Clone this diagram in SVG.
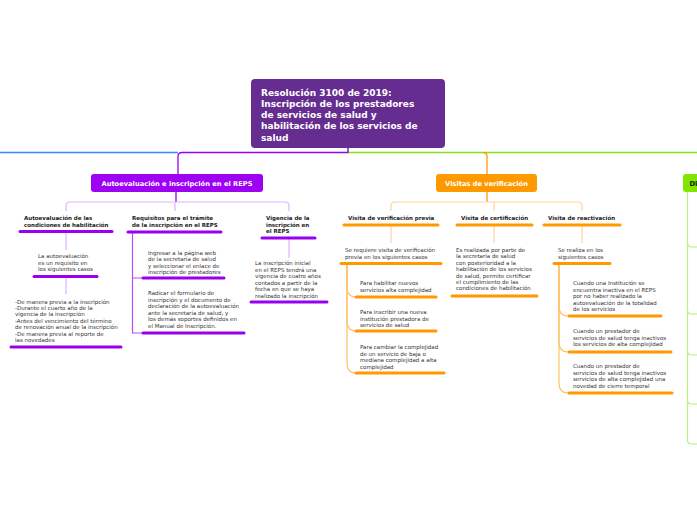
<svg xmlns="http://www.w3.org/2000/svg" width="697" height="520" viewBox="0 0 697 520">
<style>
text{font-family:"DejaVu Sans","Verdana",sans-serif}
.title{font-size:9px;font-weight:bold;fill:#fff}
.br{font-size:6.7px;font-weight:bold;fill:#fff}
.hd{font-size:5.5px;font-weight:bold;fill:#222}
.tx{font-size:5.5px;fill:#333}
.ulp{stroke:#9900EE;stroke-width:3;stroke-linecap:round;fill:none}
.ulo{stroke:#FF9900;stroke-width:3;stroke-linecap:round;fill:none}
.lp{stroke:#DDB3FF;stroke-width:1.2;fill:none}
.lpm{stroke:#B44DF5;stroke-width:1.2;fill:none}
.lo{stroke:#FFD699;stroke-width:1.2;fill:none}
.lom{stroke:#FFC266;stroke-width:1.2;fill:none}
.lg{stroke:#B8F27A;stroke-width:1.2;fill:none}
</style>
<rect width="697" height="520" fill="#fff"/>
<g id="connectors">
  <path d="M0,152.5 L178,152.5" stroke="#3A86FF" stroke-width="1.3" fill="none"/>
  <path d="M348,148 L348,152.5 L697,152.5" stroke="#88E21A" stroke-width="1.3" fill="none"/>
  <path d="M348,148 L348,152.5 L182,152.5 Q178,152.5 178,156.5 L178,174" stroke="#9900EE" stroke-width="1.3" fill="none"/>
  <path d="M483,152.5 Q487,152.5 487,156.5 L487,174" stroke="#FF9900" stroke-width="1.3" fill="none"/>
  <!-- purple branch -->
  <path d="M176,192 L176,202" stroke="#9900EE" stroke-width="1.3" fill="none"/>
  <path class="lp" d="M66,211 L66,206 Q66,202 70,202 L285,202 Q289,202 289,206 L289,211"/>
  <path class="lp" d="M175,202 L175,211"/>
  <path class="lp" d="M66,233 L66,250"/>
  <path class="lp" d="M66,277 L66,294"/>
  <path class="lpm" d="M132.5,233 L132.5,278 L142,278 M132.5,278 L132.5,333 L142,333"/>
  <path class="lp" d="M289,239 L289,258"/>
  <!-- orange branch -->
  <path d="M487,192 L487,202" stroke="#FF9900" stroke-width="1.3" fill="none"/>
  <path class="lo" d="M391,211 L391,206 Q391,202 395,202 L578,202 Q582,202 582,206 L582,211"/>
  <path class="lo" d="M494,202 L494,211"/>
  <path class="lo" d="M391,226 L391,243"/>
  <path class="lo" d="M494,226 L494,243"/>
  <path class="lo" d="M582,226 L582,243"/>
  <path class="lom" d="M347,264 L347,287 Q347,297 356,297"/>
  <path class="lom" d="M347,264 L347,321 Q347,331 356,331"/>
  <path class="lom" d="M347,264 L347,363 Q347,373 356,373"/>
  <path class="lom" d="M559,264 L559,306 Q559,316 568,316"/>
  <path class="lom" d="M559,264 L559,342 Q559,352 568,352"/>
  <path class="lom" d="M559,264 L559,383 Q559,393 568,393"/>
  <!-- green branch -->
  <path class="lg" d="M687.5,192 L687.5,440 Q687.5,444 691.5,444 L697,444"/>
  <path class="lg" d="M687.5,243 Q687.5,247 691.5,247 L697,247"/>
  <path class="lg" d="M687.5,310 Q687.5,314 691.5,314 L697,314"/>
  <path class="lg" d="M687.5,351 Q687.5,355 691.5,355 L697,355"/>
  <path class="lg" d="M687.5,400 Q687.5,404 691.5,404 L697,404"/>
</g>
<g id="title">
  <rect x="251" y="79" width="194" height="69" rx="4" fill="#662D91"/>
  <text class="title" x="261" y="96">Resolución 3100 de 2019:</text>
  <text class="title" x="261" y="107">Inscripción de los prestadores</text>
  <text class="title" x="261" y="118.2">de servicios de salud y</text>
  <text class="title" x="261" y="129.4">habilitación de los servicios de</text>
  <text class="title" x="261" y="140.5">salud</text>
</g>
<g id="autoevaluacion-inscripcion">
  <rect x="91" y="174" width="172" height="18" rx="3" fill="#9D00F2"/>
  <text class="br" x="177" y="185.8" text-anchor="middle">Autoevaluación e inscripción en el REPS</text>
</g>
<g id="autoevaluacion-condiciones">
  <text class="hd" x="24" y="220">Autoevaluación de las</text>
  <text class="hd" x="24" y="227">condiciones de habilitación</text>
  <line class="ulp" x1="20" y1="231.5" x2="112" y2="231.5"/>
</g>
<g id="autoevaluacion-requisito">
  <text class="tx" x="38" y="258">La autoevaluación</text>
  <text class="tx" x="38" y="264.6">es un requisito en</text>
  <text class="tx" x="38" y="271.2">los siguientes casos</text>
  <line class="ulp" x1="34" y1="276.5" x2="97" y2="276.5"/>
</g>
<g id="autoevaluacion-casos">
  <text class="tx" x="15" y="303.5">-De manera previa a la inscripción</text>
  <text class="tx" x="15" y="309.9">-Durante el cuarto año de la</text>
  <text class="tx" x="15" y="316.3">vigencia de la inscripción</text>
  <text class="tx" x="15" y="322.7">-Antes del vencimiento del término</text>
  <text class="tx" x="15" y="329.1">de renovación anual de la inscripción</text>
  <text class="tx" x="15" y="335.5">-De manera previa al reporte de</text>
  <text class="tx" x="15" y="341.9">las novedades</text>
  <line class="ulp" x1="11" y1="347" x2="121" y2="347"/>
</g>
<g id="requisitos">
  <text class="hd" x="132" y="220">Requisitos para el trámite</text>
  <text class="hd" x="132" y="227">de la inscripción en el REPS</text>
  <line class="ulp" x1="128" y1="232" x2="221" y2="232"/>
</g>
<g id="requisitos-ingresar">
  <text class="tx" x="148" y="255">Ingresar a la página web</text>
  <text class="tx" x="148" y="261.4">de la secretaría de salud</text>
  <text class="tx" x="148" y="267.8">y seleccionar el enlace de</text>
  <text class="tx" x="148" y="274.2">inscripción de prestadores</text>
  <line class="ulp" x1="143" y1="278" x2="224" y2="278"/>
</g>
<g id="requisitos-radicar">
  <text class="tx" x="148" y="295">Radicar el formulario de</text>
  <text class="tx" x="148" y="301.5">inscripción y el documento de</text>
  <text class="tx" x="148" y="308">declaración de la autoevaluación</text>
  <text class="tx" x="148" y="314.5">ante la secretaría de salud, y</text>
  <text class="tx" x="148" y="321">los demás soportes definidos en</text>
  <text class="tx" x="148" y="327.5">el Manual de Inscripción.</text>
  <line class="ulp" x1="143" y1="333" x2="244" y2="333"/>
</g>
<g id="vigencia">
  <text class="hd" x="266" y="220">Vigencia de la</text>
  <text class="hd" x="266" y="226.7">inscripción en</text>
  <text class="hd" x="266" y="233.4">el REPS</text>
  <line class="ulp" x1="262" y1="238" x2="315" y2="238"/>
</g>
<g id="vigencia-texto">
  <text class="tx" x="255" y="265">La inscripción inicial</text>
  <text class="tx" x="255" y="271.5">en el REPS tendrá una</text>
  <text class="tx" x="255" y="278">vigencia de cuatro años</text>
  <text class="tx" x="255" y="284.5">contados a partir de la</text>
  <text class="tx" x="255" y="291">fecha en que se haya</text>
  <text class="tx" x="255" y="297.5">realizado la inscripción</text>
  <line class="ulp" x1="251" y1="302" x2="327" y2="302"/>
</g>
<g id="visitas-verificacion">
  <rect x="436" y="174" width="101" height="18" rx="3" fill="#FF9900"/>
  <text class="br" x="486.5" y="185.8" text-anchor="middle">Visitas de verificación</text>
</g>
<g id="visita-previa">
  <text class="hd" x="348" y="220">Visita de verificación previa</text>
  <line class="ulo" x1="344" y1="225" x2="438" y2="225"/>
</g>
<g id="previa-casos">
  <text class="tx" x="345" y="252">Se requiere visita de verificación</text>
  <text class="tx" x="345" y="258.5">previa en los siguientes casos</text>
  <line class="ulo" x1="341" y1="263.5" x2="441" y2="263.5"/>
</g>
<g id="previa-habilitar">
  <text class="tx" x="360" y="285">Para habilitar nuevos</text>
  <text class="tx" x="360" y="291.5">servicios alta complejidad</text>
  <line class="ulo" x1="356" y1="297" x2="436" y2="297"/>
</g>
<g id="previa-inscribir">
  <text class="tx" x="360" y="314">Para inscribir una nueva</text>
  <text class="tx" x="360" y="320.5">institución prestadora de</text>
  <text class="tx" x="360" y="327">servicios de salud</text>
  <line class="ulo" x1="356" y1="331" x2="436" y2="331"/>
</g>
<g id="previa-cambiar">
  <text class="tx" x="360" y="349">Para cambiar la complejidad</text>
  <text class="tx" x="360" y="355.5">de un servicio de baja o</text>
  <text class="tx" x="360" y="362">mediana complejidad a alta</text>
  <text class="tx" x="360" y="368.5">complejidad</text>
  <line class="ulo" x1="356" y1="373" x2="444" y2="373"/>
</g>
<g id="visita-certificacion">
  <text class="hd" x="461" y="220">Visita de certificación</text>
  <line class="ulo" x1="457" y1="225" x2="532" y2="225"/>
</g>
<g id="certificacion-texto">
  <text class="tx" x="456" y="252">Es realizada por parte de</text>
  <text class="tx" x="456" y="258.4">la secretaría de salud</text>
  <text class="tx" x="456" y="264.8">con posterioridad a la</text>
  <text class="tx" x="456" y="271.2">habilitación de los servicios</text>
  <text class="tx" x="456" y="277.6">de salud, permite certificar</text>
  <text class="tx" x="456" y="284">el cumplimiento de las</text>
  <text class="tx" x="456" y="290.4">condiciones de habilitación</text>
  <line class="ulo" x1="452" y1="296" x2="537" y2="296"/>
</g>
<g id="visita-reactivacion">
  <text class="hd" x="548" y="220">Visita de reactivación</text>
  <line class="ulo" x1="544" y1="225" x2="620" y2="225"/>
</g>
<g id="reactivacion-casos">
  <text class="tx" x="558" y="252">Se realiza en los</text>
  <text class="tx" x="558" y="258.5">siguientes casos</text>
  <line class="ulo" x1="554" y1="263.5" x2="610" y2="263.5"/>
</g>
<g id="reactivacion-inactiva">
  <text class="tx" x="573" y="285">Cuando una Institución se</text>
  <text class="tx" x="573" y="291.5">encuentra inactiva en el REPS</text>
  <text class="tx" x="573" y="298">por no haber realizado la</text>
  <text class="tx" x="573" y="304.5">autoevaluación de la totalidad</text>
  <text class="tx" x="573" y="311">de los servicios</text>
  <line class="ulo" x1="569" y1="316" x2="661" y2="316"/>
</g>
<g id="reactivacion-alta">
  <text class="tx" x="573" y="333">Cuando un prestador de</text>
  <text class="tx" x="573" y="339.5">servicios de salud tenga inactivos</text>
  <text class="tx" x="573" y="346">los servicios de alta complejidad</text>
  <line class="ulo" x1="569" y1="352" x2="671" y2="352"/>
</g>
<g id="reactivacion-cierre">
  <text class="tx" x="573" y="368">Cuando un prestador de</text>
  <text class="tx" x="573" y="374.5">servicios de salud tenga inactivos</text>
  <text class="tx" x="573" y="381">servicios de alta complejidad una</text>
  <text class="tx" x="573" y="387.5">novedad de cierre temporal</text>
  <line class="ulo" x1="569" y1="393" x2="672" y2="393"/>
</g>
<g id="definiciones">
  <rect x="683" y="174" width="20" height="18" rx="3" fill="#80E600"/>
  <text x="689.5" y="185.8" style="font-size:6.7px;font-weight:bold;fill:#111">Di</text>
</g>
</svg>
